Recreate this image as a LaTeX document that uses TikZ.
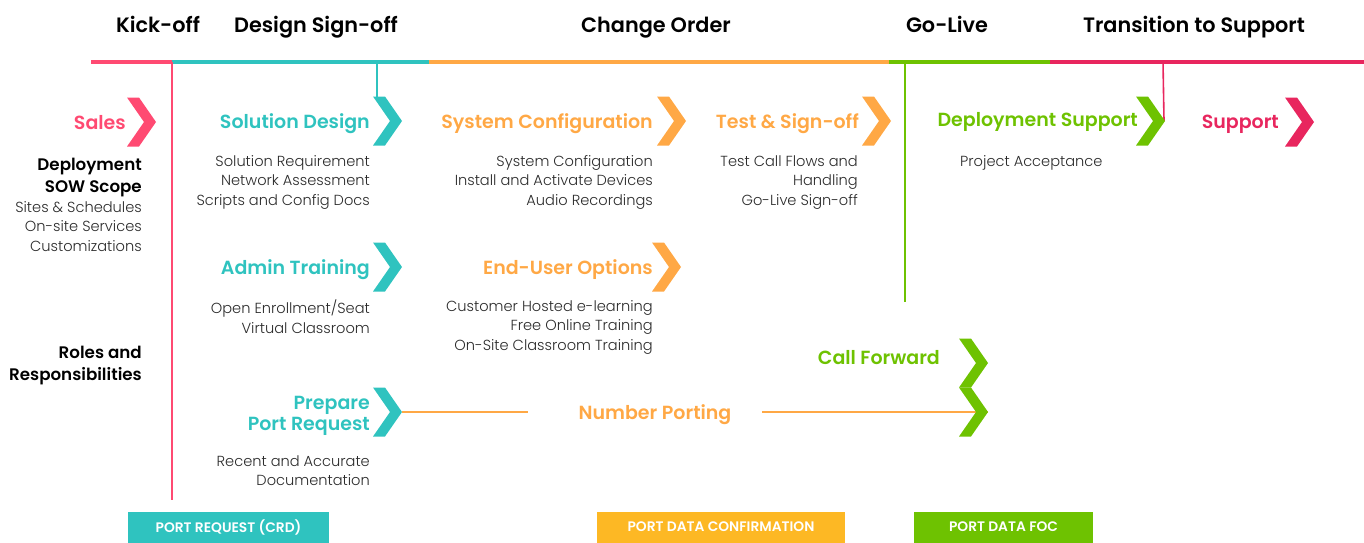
\documentclass[tikz,border=0pt]{standalone}
\usepackage{fontspec}
\setmainfont{Poppins}
\newfontfamily\pmed{Poppins}[UprightFont=* Medium]
\newfontfamily\psemi{Poppins}[UprightFont=* SemiBold]
\newfontfamily\plight{Poppins}[UprightFont=* Light]
\usetikzlibrary{calc}
\definecolor{cpink}{HTML}{FF4A72}
\definecolor{cteal}{HTML}{2FC3BF}
\definecolor{corange}{HTML}{FFA845}
\definecolor{cgreen}{HTML}{6EC201}
\definecolor{ccrim}{HTML}{E8265E}
\definecolor{cyellow}{HTML}{FDB824}
\definecolor{cbody}{HTML}{2B2B2B}
\tikzset{
  phase/.style={font=\fontsize{20.8}{24}\selectfont\psemi, text=black, inner sep=0, anchor=base},
  ttl/.style={font=\fontsize{19}{21}\selectfont\psemi, anchor=base east, align=right, inner sep=0},
  side/.style={font=\fontsize{16.7}{22}\selectfont\psemi, text=black, anchor=north east, align=right, inner sep=0},
  body/.style={font=\fontsize{14.6}{19.5}\selectfont\plight, text=cbody, anchor=north east, align=right, inner sep=0},
  badge/.style={font=\fontsize{13.8}{15}\selectfont\psemi, text=white, inner sep=0, minimum height=31pt},
  tline/.style={line width=4pt},
  vline/.style={line width=1.6pt},
  chev/.pic={\fill (-29,-24.5) -- (-17,-24.5) -- (0,0) -- (-17,24.5) -- (-29,24.5) -- (-12,0) -- cycle;}
}
\begin{document}
\begin{tikzpicture}[x=1pt,y=-1pt]
\useasboundingbox (0,0) rectangle (1364,542);
% phase headers
\node[phase] (hKick) at (158,32) {Kick-off};
\node[phase] (hDes) at (316,32) {Design Sign-off};
\node[phase] (hCO) at (656,32) {Change Order};
\node[phase] (hGo) at (947,32) {Go-Live};
\node[phase] (hTr) at (1194,32) {Transition to Support};
% timeline
\coordinate (t0) at (91,62);
\coordinate (t1) at (172,62);
\coordinate (tD) at (377,62);
\coordinate (t2) at (429,62);
\coordinate (t3) at (889,62);
\coordinate (tG) at (905,62);
\coordinate (t4) at (1050,62);
\coordinate (tS) at (1163,62);
\coordinate (t5) at (1364,62);
\draw[tline,cpink] (t0) -- (t1);
\draw[tline,cteal] (t1) -- (t2);
\draw[tline,corange] (t2) -- (t3);
\draw[tline,cgreen] (t3) -- (t4);
\draw[tline,ccrim] (t4) -- (t5);
% chevron tips
\coordinate (cSales) at (156,122);
\coordinate (cSol) at (402,121);
\coordinate (cSys) at (686,121);
\coordinate (cTest) at (891,121);
\coordinate (cDep) at (1165,121);
\coordinate (cSup) at (1314,122);
\coordinate (cAdm) at (402,267);
\coordinate (cEnd) at (681,267);
\coordinate (cPrep) at (402,412);
\coordinate (cCall) at (988,363);
\coordinate (cNum) at (988,412);
% vertical lines
\coordinate (kEnd) at (172,500);
\coordinate (gEnd) at (905,302);
\draw[vline,cpink] (t1) -- (kEnd);
\draw[vline,cteal] (tD) -- ($(cSol)+(-25,-24)$);
\draw[vline,cgreen] (tG) -- (gEnd);
\draw[vline,ccrim] (tS) -- ($(cDep)+(-1,0)$);
% number porting line
\node[ttl,anchor=base,text=corange] (tNum) at (655,419) {Number Porting};
\draw[line width=1.5pt,corange] (cPrep) -- (528,412);
\draw[line width=1.5pt,corange] (762,412) -- (cNum);
% chevrons
\pic[fill=cpink] at (cSales) {chev};
\pic[fill=cteal] at (cSol) {chev};
\pic[fill=corange] at (cSys) {chev};
\pic[fill=corange] at (cTest) {chev};
\pic[fill=cgreen] at (cDep) {chev};
\pic[fill=ccrim] at (cSup) {chev};
\pic[fill=cteal] at (cAdm) {chev};
\pic[fill=corange] at (cEnd) {chev};
\pic[fill=cteal] at (cPrep) {chev};
\pic[fill=cgreen] at (cCall) {chev};
\pic[fill=cgreen] at (cNum) {chev};
% titles
\node[ttl,text=cpink] (tSales) at (126,129) {Sales};
\node[ttl,text=cteal] (tSol) at (370,128) {Solution Design};
\node[ttl,text=corange] (tSys) at (653,128) {System Configuration};
\node[ttl,text=corange] (tTest) at (859,128) {Test \& Sign-off};
\node[ttl,text=cgreen] (tDep) at (1138,126) {Deployment Support};
\node[ttl,text=ccrim] (tSup) at (1279,128) {Support};
\node[ttl,text=cteal] (tAdm) at (370,274) {Admin Training};
\node[ttl,text=corange] (tEnd) at (653,274) {End-User Options};
\node[ttl,text=cgreen] (tCall) at (940,364) {Call Forward};
\node[ttl,anchor=east,text=cteal] (tPrep) at (370,416) {Prepare\\Port Request};
% side labels
\node[side] (sDep) at (142,158) {Deployment\\SOW Scope};
\node[side] (sRoles) at (142,346) {Roles and\\Responsibilities};
\node[body] (sDepB) at (142,201) {Sites \& Schedules\\On-site Services\\Customizations};
% body texts
\node[body] (bSol) at (370,155) {Solution Requirement\\Network Assessment\\Scripts and Config Docs};
\node[body] (bSys) at (653,155) {System Configuration\\Install and Activate Devices\\Audio Recordings};
\node[body] (bTest) at (858,155) {Test Call Flows and\\Handling\\Go-Live Sign-off};
\node[body,anchor=north west] (bDep) at (960,155) {Project Acceptance};
\node[body] (bAdm) at (370,300) {Open Enrollment/Seat\\Virtual Classroom};
\node[body] (bEnd) at (653,300) {Customer Hosted e-learning\\Free Online Training\\On-Site Classroom Training};
\node[body] (bPrep) at (370,455) {Recent and Accurate\\Documentation};
% badges
\node[badge,fill=cteal,minimum width=201pt] (pCRD) at (228.5,527) {PORT REQUEST (CRD)};
\node[badge,fill=cyellow,minimum width=248pt] (pConf) at (721,527) {PORT DATA CONFIRMATION};
\node[badge,fill=cgreen,minimum width=179pt] (pFOC) at (1003.5,527) {PORT DATA FOC};
\end{tikzpicture}
\end{document}
